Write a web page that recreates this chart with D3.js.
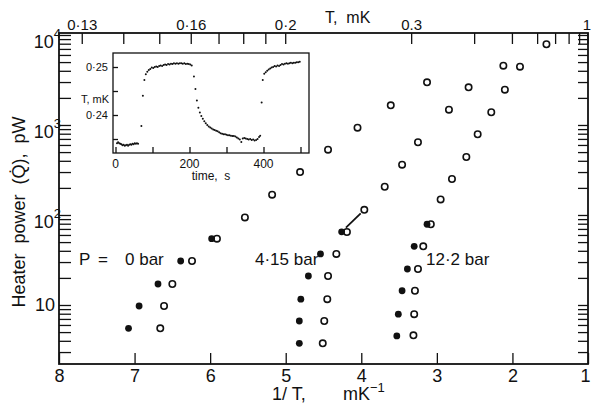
<!DOCTYPE html>
<html>
<head>
<meta charset="utf-8">
<script src="https://cdn.jsdelivr.net/npm/d3@7"></script>
<style>
  body { margin: 0; background: #fff; }
  svg { display: block; }
  text { font-family: "Liberation Sans", Arial, sans-serif; fill: #111; }
</style>
</head>
<body>
<svg id="chart"></svg>
<script>
// heater power vs 1/T, three pressures (filled = before, open = after)
var zeroFilledX = [7.08, 6.94, 6.69, 6.39, 5.98];
var zeroFilledY = [5.5, 9.75, 17.1, 30.8, 54.6];
var zeroOpenX = [6.66, 6.61, 6.50, 6.24, 5.91, 5.54, 5.18, 4.81, 4.44, 4.05, 3.61, 3.13];
var zeroOpenY = [5.5, 9.75, 17.1, 30.8, 54.6, 94, 168, 300, 532, 933, 1655, 2980];

var midFilledX = [4.82, 4.82, 4.80, 4.70, 4.54, 4.26];
var midFilledY = [3.75, 6.64, 11.6, 21, 36.9, 65];
var midOpenX = [4.51, 4.49, 4.45, 4.44, 4.33, 4.19, 3.96, 3.69, 3.46, 3.25, 2.84, 2.58, 2.12];
var midOpenY = [3.75, 6.64, 11.6, 21, 36.9, 64.7, 114, 206, 362, 643, 1480, 2620, 4560];

var highFilledX = [3.53, 3.51, 3.46, 3.39, 3.30, 3.13];
var highFilledY = [4.53, 7.9, 14.4, 25.1, 44.9, 78.9];
var highOpenX = [3.31, 3.30, 3.29, 3.25, 3.18, 3.08, 2.95, 2.80, 2.61, 2.46, 2.28, 2.10, 1.90, 1.55];
var highOpenY = [4.6, 7.9, 14.4, 25.1, 44.9, 78.9, 149, 251, 441, 789, 1385, 2470, 4450, 7890];

var bottomTicks = [8, 7, 6, 5, 4, 3, 2, 1];
var topTicks = [0.13, 0.14, 0.15, 0.16, 0.17, 0.18, 0.19, 0.2, 0.3, 0.4, 0.5, 0.6, 0.7, 0.8, 0.9, 1];
var topLabels = [[0.13, "0·13"], [0.16, "0·16"], [0.2, "0·2"], [0.3, "0.3"], [1, "1"]];
var decades = [10, 100, 1000, 10000];
var decadeExp = ["", "2", "3", "4"];

// inset: temperature trace
var insetTime = [4, 7, 10, 13, 16, 19, 22, 25, 28, 31, 34, 37, 40, 43, 46, 49, 52, 55, 58, 61,
  70, 74, 78, 82, 86, 90, 94, 98, 102, 106, 110, 114, 118, 122, 126, 130, 134, 138, 142, 146,
  150, 154, 158, 162, 166, 170, 174, 178, 182, 186, 190, 194, 198, 202, 206,
  212, 216, 220, 224, 228, 232, 236, 240, 244, 248, 252, 256, 260, 264, 268, 272, 276, 280,
  284, 288, 292, 296, 300, 304, 308, 312, 316, 320, 324, 328, 332, 336, 340, 344, 348, 352,
  356, 360, 364, 368, 372, 376, 380, 384, 388, 391,
  395, 398, 402, 406, 410, 414, 418, 422, 426, 430, 434, 438, 442, 446, 450, 454, 458, 462,
  466, 470, 474, 478, 482, 486, 490, 494, 498];
var insetTemp = [0.2341, 0.2343, 0.2341, 0.2340, 0.2339, 0.2337, 0.2338, 0.2336, 0.2337, 0.2338,
  0.2336, 0.2338, 0.2339, 0.2338, 0.2340, 0.2339, 0.2341, 0.2340, 0.2341, 0.2340,
  0.2377, 0.2440, 0.2473, 0.2485, 0.2490, 0.2494, 0.2496, 0.2499, 0.2498, 0.2500, 0.2501,
  0.2500, 0.2502, 0.2503, 0.2502, 0.2504, 0.2505, 0.2504, 0.2506, 0.2505, 0.2507, 0.2506,
  0.2508, 0.2507, 0.2508, 0.2507, 0.2508, 0.2508, 0.2507, 0.2508, 0.2506, 0.2507, 0.2506,
  0.2505, 0.2503,
  0.2480, 0.2454, 0.2430, 0.2415, 0.2405, 0.2398, 0.2392, 0.2387, 0.2383, 0.2379, 0.2376,
  0.2374, 0.2372, 0.2370, 0.2369, 0.2367, 0.2366, 0.2364, 0.2362, 0.2361, 0.2360, 0.2360,
  0.2359, 0.2358, 0.2358, 0.2357, 0.2356, 0.2356, 0.2355, 0.2353, 0.2351, 0.2349, 0.2344,
  0.2351, 0.2352, 0.2351, 0.2350, 0.2349, 0.2350, 0.2348, 0.2349, 0.2347, 0.2348, 0.2350,
  0.2354, 0.2357,
  0.2426, 0.2473, 0.2486, 0.2489, 0.2492, 0.2495, 0.2497, 0.2499, 0.2500, 0.2502, 0.2501,
  0.2503, 0.2502, 0.2504, 0.2506, 0.2505, 0.2507, 0.2508, 0.2507, 0.2508, 0.2509, 0.2508,
  0.2509, 0.2509, 0.2510, 0.2510, 0.2511];
var insetTimeTicks = [0, 100, 200, 300, 400, 500];
var insetTimeLabels = [0, 200, 400];
var insetTempTicks = [0.235, 0.24, 0.245, 0.25];

var w = 592, h = 406;
var plotL = 59, plotR = 588, plotT = 33, plotB = 364;

var svg = d3.select("#chart").attr("width", w).attr("height", h);
svg.append("rect").attr("width", w).attr("height", h).attr("fill", "#fff");

var x = d3.scaleLinear().domain([8, 1]).range([plotL, plotR]);
var y = d3.scaleLog().domain([2.21, 10520]).range([plotB, plotT]);

// minor log ticks 2..9 per decade
var logTicks = [];
[1, 10, 100, 1000].forEach(function(d) {
    for (var k = 1; k <= 9; k++) {
        var v = d * k;
        if (v >= 2.21 && v <= 10520) logTicks.push(v);
    }
});
logTicks.push(10000);

function styleAxis(g) {
    g.selectAll(".domain").remove();
    g.selectAll("line").attr("stroke", "#111").attr("stroke-width", 1.3);
}

var xAxisG = svg.append("g")
    .attr("transform", "translate(0," + plotB + ")")
    .call(d3.axisBottom(x).tickValues(bottomTicks).tickSize(-11).tickPadding(5).tickFormat(d3.format("d")))
    .call(styleAxis);
xAxisG.selectAll("text").style("font-size", "18px").attr("fill", "#111")
    .style("font-family", "Liberation Sans, Arial, sans-serif")
    .attr("x", function(d) { return d === 1 ? -3 : 0; });

svg.append("g")
    .attr("transform", "translate(" + plotL + ",0)")
    .call(d3.axisLeft(y).tickValues(logTicks).tickSize(-12).tickFormat(""))
    .call(styleAxis);

svg.append("g")
    .attr("transform", "translate(" + plotR + ",0)")
    .call(d3.axisRight(y).tickValues(logTicks).tickSize(-10).tickFormat(""))
    .call(styleAxis);

// top axis in T, mK
svg.append("g").selectAll("line")
    .data(topTicks)
    .join("line")
    .attr("x1", function(d) { return x(1 / d); })
    .attr("x2", function(d) { return x(1 / d); })
    .attr("y1", plotT)
    .attr("y2", plotT + 11)
    .attr("stroke", "#111")
    .attr("stroke-width", 1.3);

svg.append("g").selectAll("text")
    .data(topLabels)
    .join("text")
    .attr("x", function(d) { return d[0] === 1 ? x(1) - 1 : x(1 / d[0]); })
    .attr("y", 30)
    .attr("text-anchor", "middle")
    .style("font-size", "15px")
    .text(function(d) { return d[1]; });

svg.append("text").attr("x", 325).attr("y", 23).style("font-size", "16px")
    .style("white-space", "pre").text("T,  mK");

// frame
svg.append("rect")
    .attr("x", plotL).attr("y", plotT)
    .attr("width", plotR - plotL).attr("height", plotB - plotT)
    .attr("fill", "none").attr("stroke", "#111").attr("stroke-width", 1.8);

// decade labels
decades.forEach(function(d, i) {
    var t = svg.append("text")
        .attr("y", y(d) + (decadeExp[i] ? 13 : 6))
        .attr("text-anchor", "end")
        .style("font-size", "18px");
    if (decadeExp[i]) {
        t.attr("x", 61);
        t.append("tspan").text("10");
        t.append("tspan").attr("dy", -10).style("font-size", "13px").text(decadeExp[i]);
    } else {
        t.attr("x", 55).text("10");
    }
});

// axis titles
svg.append("text")
    .attr("transform", "translate(25,212) rotate(-90)")
    .attr("text-anchor", "middle")
    .style("font-size", "18px")
    .style("white-space", "pre")
    .text("Heater  power  (Q\u0307),  pW");

svg.append("text").attr("x", 272).attr("y", 400).style("font-size", "18px")
    .style("white-space", "pre").text("1/ T,");
var unit = svg.append("text").attr("x", 343).attr("y", 400).style("font-size", "18px");
unit.append("tspan").text("mK");
unit.append("tspan").attr("dy", -8).style("font-size", "13px").text("\u22121");

// annotations
svg.append("text").attr("x", 79).attr("y", 265).style("font-size", "17px").text("P");
svg.append("text").attr("x", 98).attr("y", 265).style("font-size", "17px").text("=");
svg.append("text").attr("x", 125).attr("y", 265).style("font-size", "17px").text("0 bar");
svg.append("text").attr("x", 255).attr("y", 265).style("font-size", "17px").text("4·15 bar");
svg.append("text").attr("x", 426).attr("y", 265).style("font-size", "17px").text("12·2 bar");

// link between the 4.15 bar pair that moved
var ax0 = x(midFilledX[5]), ay0 = y(midFilledY[5]);
var ax1 = x(midOpenX[6]), ay1 = y(midOpenY[6]);
var len = Math.hypot(ax1 - ax0, ay1 - ay0);
svg.append("line")
    .attr("x1", ax0 + (ax1 - ax0) * 6 / len).attr("y1", ay0 + (ay1 - ay0) * 6 / len)
    .attr("x2", ax1 - (ax1 - ax0) * 5 / len).attr("y2", ay1 - (ay1 - ay0) * 5 / len)
    .attr("stroke", "#111").attr("stroke-width", 1.8);

function drawFilled(xs, ys) {
    svg.append("g").selectAll("circle")
        .data(xs)
        .join("circle")
        .attr("cx", function(d) { return x(d); })
        .attr("cy", function(d, i) { return y(ys[i]); })
        .attr("r", 3.4)
        .attr("fill", "#111");
}

function drawOpen(xs, ys) {
    svg.append("g").selectAll("circle")
        .data(xs)
        .join("circle")
        .attr("cx", function(d) { return x(d); })
        .attr("cy", function(d, i) { return y(ys[i]); })
        .attr("r", 3.2)
        .attr("fill", "#fff")
        .attr("stroke", "#111")
        .attr("stroke-width", 1.6);
}

drawOpen(zeroOpenX, zeroOpenY);
drawFilled(zeroFilledX, zeroFilledY);
drawOpen(midOpenX, midOpenY);
drawFilled(midFilledX, midFilledY);
drawOpen(highOpenX, highOpenY);
drawFilled(highFilledX, highFilledY);

// inset
var ix = d3.scaleLinear().domain([0, 500]).range([115.5, 300.5]);
var iy = d3.scaleLinear().domain([0.24, 0.25]).range([115, 67]);
var inL = 113, inR = 309, inT = 53, inB = 153;

var inset = svg.append("g");
inset.append("rect")
    .attr("x", inL).attr("y", inT).attr("width", inR - inL).attr("height", inB - inT)
    .attr("fill", "#fff").attr("stroke", "#111").attr("stroke-width", 1.3);

inset.append("g").attr("transform", "translate(0," + inB + ")")
    .call(d3.axisBottom(ix).tickValues(insetTimeTicks).tickSize(-6).tickFormat(""))
    .call(styleAxis);
inset.append("g").attr("transform", "translate(" + inL + ",0)")
    .call(d3.axisLeft(iy).tickValues(insetTempTicks).tickSize(-5).tickFormat(""))
    .call(styleAxis);

inset.selectAll(".tlab")
    .data(insetTimeLabels)
    .join("text")
    .attr("class", "tlab")
    .attr("x", function(d) { return ix(d); })
    .attr("y", 168)
    .attr("text-anchor", "middle")
    .style("font-size", "12px")
    .text(function(d) { return d; });
inset.append("text").attr("x", 211).attr("y", 180).attr("text-anchor", "middle")
    .style("font-size", "12px").style("white-space", "pre").text("time,  s");

inset.append("text").attr("x", 108).attr("y", iy(0.25) + 4).attr("text-anchor", "end")
    .style("font-size", "11px").text("0·25");
inset.append("text").attr("x", 108).attr("y", iy(0.24) + 4).attr("text-anchor", "end")
    .style("font-size", "11px").text("0·24");
inset.append("text").attr("x", 81).attr("y", 103)
    .style("font-size", "11px").text("T, mK");

inset.append("g").selectAll("circle")
    .data(insetTime)
    .join("circle")
    .attr("cx", function(d) { return ix(d); })
    .attr("cy", function(d, i) { return iy(insetTemp[i]); })
    .attr("r", 1)
    .attr("fill", "#111");
</script>
</body>
</html>
